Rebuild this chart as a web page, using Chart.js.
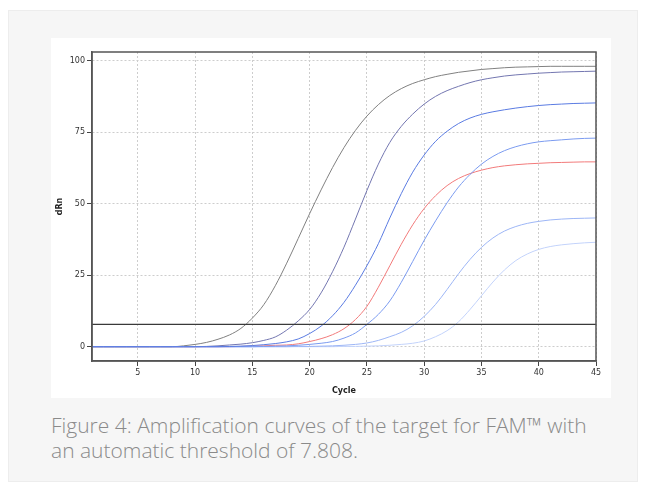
<!DOCTYPE html>
<html>
<head>
<meta charset="utf-8">
<script src="https://cdn.jsdelivr.net/npm/chart.js@4"></script>
<style>
  body { margin: 0; width: 645px; height: 490px; background: #fff; position: relative; overflow: hidden; }
  #panel { position: absolute; left: 8px; top: 10px; width: 628px; height: 470px; background: #f6f6f6; border: 1px solid #ededed; }
  #box { position: absolute; left: 51px; top: 38px; width: 560px; height: 360px; background: #fff; }
  #caption { position: absolute; left: 51px; top: 413px; width: 590px; font-family: "Open Sans", sans-serif; font-weight: 300; font-size: 21px; line-height: 25px; color: #8a8a8a; white-space: nowrap; }
</style>
</head>
<body>
<div id="panel"></div>
<div id="box"><canvas id="ampChart" width="560" height="360"></canvas></div>
<div id="caption">Figure 4: Amplification curves of the target for FAM™ with<br>an automatic threshold of 7.808.</div>
<script>
// cycles 1..45
const cycles = [1, 2, 3, 4, 5, 6, 7, 8, 9, 10, 11, 12, 13, 14, 15, 16, 17, 18, 19, 20, 21, 22, 23, 24, 25, 26, 27, 28, 29, 30, 31, 32, 33, 34, 35, 36, 37, 38, 39, 40, 41, 42, 43, 44, 45];

// dRn per cycle
const sampleGray = [0, 0, 0, 0, 0, 0, 0, 0, 0.3, 0.8, 1.5, 2.6, 4.1, 6.4, 10.0, 14.7, 21.3, 29.2, 37.8, 46.5, 54.8, 62.6, 69.6, 75.6, 80.6, 84.6, 87.8, 90.2, 92, 93.3, 94.4, 95.2, 95.9, 96.4, 96.9, 97.2, 97.5, 97.7, 97.8, 97.9, 98, 98, 98, 98, 98];
const sampleSlate = [0, 0, 0, 0, 0, 0, 0, 0, 0, 0, 0.1, 0.3, 0.6, 0.9, 1.4, 2.2, 3.4, 5.8, 9.0, 13, 18.8, 26.2, 34.8, 44.6, 54.6, 63.8, 71.4, 77, 81.3, 84.8, 87.5, 89.5, 91, 92.3, 93.3, 94, 94.6, 95, 95.3, 95.6, 95.8, 96, 96.1, 96.2, 96.3];
const sampleBlue = [0, 0, 0, 0, 0, 0, 0, 0, 0, 0, 0, 0, 0.1, 0.2, 0.4, 0.7, 1.1, 1.7, 2.7, 4.6, 7.2, 10.8, 15.5, 21.5, 28.3, 36, 45, 53.5, 61, 67, 71.8, 75.3, 78, 79.9, 81.2, 82.1, 82.8, 83.4, 83.9, 84.3, 84.6, 84.8, 85, 85.1, 85.2];
const sampleRed = [0, 0, 0, 0, 0, 0, 0, 0, 0, 0, 0, 0, 0, 0.1, 0.2, 0.3, 0.5, 0.6, 1.0, 1.8, 2.8, 4.2, 6.3, 9.5, 14.1, 20.8, 28.3, 35.8, 42.6, 48.3, 52.8, 56.3, 58.8, 60.5, 61.7, 62.6, 63.2, 63.6, 63.9, 64.1, 64.3, 64.4, 64.5, 64.6, 64.6];
const sampleMidBlue = [0, 0, 0, 0, 0, 0, 0, 0, 0, 0, 0, 0, 0, 0, 0, 0.1, 0.2, 0.3, 0.5, 0.8, 1.2, 1.8, 3.0, 4.8, 7.8, 11.3, 16, 22.5, 29.8, 37.2, 44, 50.3, 55.8, 60.2, 63.8, 66.5, 68.5, 69.9, 70.9, 71.6, 72, 72.3, 72.6, 72.8, 72.9];
const sampleLightBlue = [0, 0, 0, 0, 0, 0, 0, 0, 0, 0, 0, 0, 0, 0, 0, 0, 0, 0, 0.1, 0.1, 0.2, 0.3, 0.5, 0.8, 1.3, 2.2, 3.5, 5.0, 7.3, 10.6, 14.8, 20, 25.5, 30.5, 34.7, 38, 40.4, 42, 43.1, 43.8, 44.3, 44.6, 44.8, 44.9, 45];
const samplePaleBlue = [0, 0, 0, 0, 0, 0, 0, 0, 0, 0, 0, 0, 0, 0, 0, 0, 0, 0, 0, 0, 0, 0, 0.1, 0.1, 0.2, 0.3, 0.5, 0.8, 1.2, 2.0, 3.5, 5.6, 8.7, 13, 17.8, 22.6, 26.8, 30.1, 32.4, 34, 35, 35.6, 36, 36.3, 36.5];

const threshold = 7.808;
const xTicks = [5, 10, 15, 20, 25, 30, 35, 40, 45];
const yTicks = [0, 25, 50, 75, 100];

function toPoints(values) {
    return cycles.map((c, i) => ({ x: c, y: values[i] }));
}

function curve(values, color) {
    return {
        data: toPoints(values),
        borderColor: color,
        borderWidth: 1,
        pointRadius: 0,
        fill: false,
        cubicInterpolationMode: 'monotone'
    };
}

// full box round the plot area
const frame = {
    id: 'frame',
    afterDraw(chart) {
        const { ctx, chartArea: a } = chart;
        ctx.save();
        ctx.strokeStyle = '#555';
        ctx.lineWidth = 1.5;
        ctx.strokeRect(a.left, a.top, a.right - a.left, a.bottom - a.top);
        ctx.restore();
    }
};

const tickFont = { family: 'DejaVu Sans', size: 8 };

new Chart(document.getElementById('ampChart').getContext('2d'), {
    type: 'line',
    data: {
        datasets: [
            {
                data: [{ x: cycles[0], y: threshold }, { x: cycles[cycles.length - 1], y: threshold }],
                borderColor: '#3a3a3a',
                borderWidth: 1.3,
                pointRadius: 0
            },
            curve(sampleBlue, '#5a7be2'),
            curve(sampleMidBlue, '#7b9bf0'),
            curve(sampleSlate, '#7376b0'),
            curve(sampleLightBlue, '#9db6f6'),
            curve(samplePaleBlue, '#c3d3fb'),
            curve(sampleRed, '#f27a7a'),
            curve(sampleGray, '#808080')
        ]
    },
    options: {
        responsive: false,
        animation: false,
        devicePixelRatio: 1,
        layout: { padding: { left: 0, top: 14, right: 15, bottom: 0 } },
        plugins: {
            legend: { display: false },
            tooltip: { enabled: false }
        },
        scales: {
            x: {
                type: 'linear',
                min: 1,
                max: 45,
                afterBuildTicks: axis => { axis.ticks = xTicks.map(v => ({ value: v })); },
                afterFit: axis => { axis.height = 37; },
                grid: { color: '#cdcdcd', tickLength: 5, tickColor: '#444' },
                border: { color: '#555', width: 1.5, dash: [2, 2] },
                ticks: { font: tickFont, color: '#333', padding: 2, maxRotation: 0 },
                title: {
                    display: true,
                    text: 'Cycle',
                    font: { family: 'DejaVu Sans', size: 8, weight: 'bold' },
                    color: '#222',
                    padding: { top: 0, bottom: 2 }
                }
            },
            y: {
                min: -5,
                max: 103,
                afterBuildTicks: axis => { axis.ticks = yTicks.map(v => ({ value: v })); },
                afterFit: axis => { axis.width = 41; },
                grid: { color: '#cdcdcd', tickLength: 5, tickColor: '#444' },
                border: { color: '#555', width: 1.5, dash: [2, 2] },
                ticks: { font: tickFont, color: '#333', padding: 2 },
                title: {
                    display: true,
                    text: 'dRn',
                    font: { family: 'DejaVu Sans', size: 8, weight: 'bold' },
                    color: '#222',
                    padding: { top: 4, bottom: 0 }
                }
            }
        }
    },
    plugins: [frame]
});
</script>
</body>
</html>
